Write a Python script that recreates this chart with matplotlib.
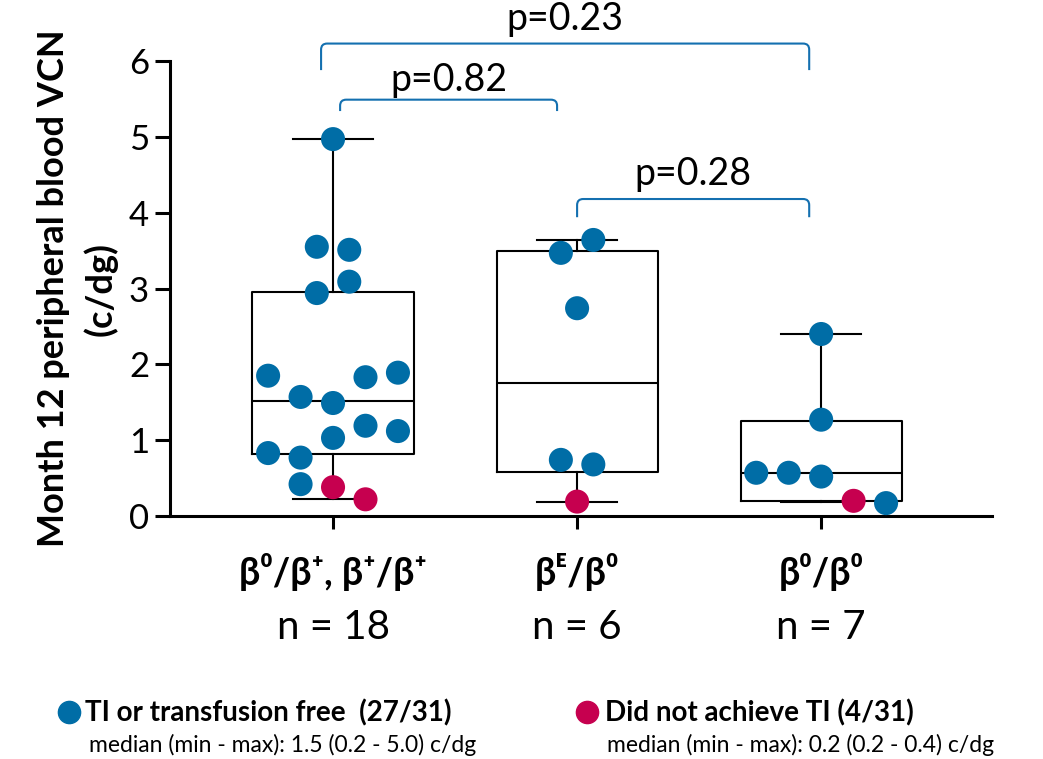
import matplotlib
matplotlib.use("Agg")
import matplotlib.pyplot as plt
from matplotlib.path import Path
from matplotlib.patches import PathPatch
from matplotlib.lines import Line2D

plt.rcParams['font.family'] = ['Lato', 'Noto Sans', 'DejaVu Sans']

BLUE = "#006da6"
RED = "#c6004f"
BRACKET = "#1470b0"

# groups
group_names = ["β⁰/β⁺, β⁺/β⁺", "βᴱ/β⁰", "β⁰/β⁰"]
group_n = ["n = 18", "n = 6", "n = 7"]

# VCN values per group, slot = horizontal jitter slot, ti = 1 transfusion free / 0 not
g1_vals = [4.97, 3.55, 3.51, 3.09, 2.94, 1.85, 1.83, 1.89, 1.57, 1.49,
           1.19, 1.12, 1.03, 0.83, 0.77, 0.42, 0.38, 0.22]
g1_slot = [0, -0.5, 0.5, 0.5, -0.5, -2, 1, 2, -1, 0, 1, 2, 0, -2, -1, -1, 0, 1]
g1_ti = [1] * 16 + [0, 0]

g2_vals = [3.64, 3.47, 2.74, 0.74, 0.68, 0.19]
g2_slot = [0.5, -0.5, 0, -0.5, 0.5, 0]
g2_ti = [1, 1, 1, 1, 1, 0]

g3_vals = [2.40, 1.27, 0.57, 0.57, 0.52, 0.20, 0.17]
g3_slot = [0, 0, -2, -1, 0, 1, 2]
g3_ti = [1, 1, 1, 1, 1, 0, 1]

# box stats (q1, median, q3, whisker low, whisker high)
box_q1 = [0.82, 0.58, 0.20]
box_med = [1.52, 1.75, 0.57]
box_q3 = [2.95, 3.50, 1.25]
box_lo = [0.22, 0.19, 0.18]
box_hi = [4.97, 3.64, 2.40]

# comparisons
p_texts = ["p=0.23", "p=0.82", "p=0.28"]

fig = plt.figure(figsize=(10.43, 7.59), dpi=100)
ax = fig.add_axes([170 / 1043, 243 / 759, 822 / 1043, 455 / 759])

positions = [1, 2, 3]
stats = []
for i in range(3):
    stats.append(dict(q1=box_q1[i], med=box_med[i], q3=box_q3[i],
                      whislo=box_lo[i], whishi=box_hi[i], fliers=[]))
ax.bxp(stats, positions=positions, widths=0.66, capwidths=0.33,
       showfliers=False,
       boxprops=dict(color="black", linewidth=1.5),
       medianprops=dict(color="black", linewidth=1.5),
       whiskerprops=dict(color="black", linewidth=1.5),
       capprops=dict(color="black", linewidth=1.5))

slot_w = 0.133
for pos, vals, slots, ti in zip(positions, [g1_vals, g2_vals, g3_vals],
                                [g1_slot, g2_slot, g3_slot],
                                [g1_ti, g2_ti, g3_ti]):
    xs = [pos + s * slot_w for s in slots]
    cols = [BLUE if t else RED for t in ti]
    ax.scatter(xs, vals, s=300, c=cols, linewidths=0, zorder=3, clip_on=False)

# significance brackets (layout)
br_x1 = [0.951, 1.029, 2.0]
br_x2 = [2.951, 1.918, 2.951]
br_top = [6.23, 5.49, 4.18]
br_leg = [0.35, 0.15, 0.24]
br_txt = [0.18, 0.11, 0.19]
rx, ry = 0.025, 0.08
for x1, x2, yt, ll, to, txt in zip(br_x1, br_x2, br_top, br_leg, br_txt, p_texts):
    verts = [(x1, yt - ll), (x1, yt - ry), (x1, yt), (x1 + rx, yt),
             (x2 - rx, yt), (x2, yt), (x2, yt - ry), (x2, yt - ll)]
    codes = [Path.MOVETO, Path.LINETO, Path.CURVE3, Path.CURVE3,
             Path.LINETO, Path.CURVE3, Path.CURVE3, Path.LINETO]
    ax.add_patch(PathPatch(Path(verts, codes), fill=False, edgecolor=BRACKET,
                           linewidth=1.5, clip_on=False))
    ax.text((x1 + x2) / 2, yt + to, txt, ha="center", va="baseline",
            fontsize=27, clip_on=False)

ax.set_xlim(0.332, 3.70)
ax.set_ylim(0, 6)
ax.set_yticks(range(0, 7))
ax.set_xticks(positions)
ax.set_xticklabels([])
ax.tick_params(axis="y", labelsize=25, width=2.2, length=11, pad=4)
ax.tick_params(axis="x", width=2.2, length=9)
for side in ["top", "right"]:
    ax.spines[side].set_visible(False)
for side in ["left", "bottom"]:
    ax.spines[side].set_linewidth(2.2)

ax.set_ylabel("Month 12 peripheral blood VCN\n(c/dg)", fontsize=26,
              fontweight="bold", linespacing=1.45, labelpad=8)

xtr = ax.get_xaxis_transform()
for pos, name, n in zip(positions, group_names, group_n):
    ax.text(pos, -0.123, name, transform=xtr, ha="center", va="center",
            fontsize=27, fontweight="bold")
    ax.text(pos, -0.244, n, transform=xtr, ha="center", va="center",
            fontsize=29)

# legend at bottom
def fx(px):
    return px / 1043

def fy(py):
    return 1 - py / 759

fig.add_artist(Line2D([fx(69)], [fy(712)], marker="o", markersize=16,
                      color=BLUE, linestyle="none", transform=fig.transFigure))
fig.text(fx(85), fy(713), "TI or transfusion free  (27/31)", fontsize=20,
         fontweight="bold", va="center")
fig.text(fx(89), fy(745), "median (min - max): 1.5 (0.2 - 5.0) c/dg",
         fontsize=16.5, va="center")
fig.add_artist(Line2D([fx(587)], [fy(712)], marker="o", markersize=16,
                      color=RED, linestyle="none", transform=fig.transFigure))
fig.text(fx(605), fy(713), "Did not achieve TI (4/31)", fontsize=20,
         fontweight="bold", va="center")
fig.text(fx(607), fy(745), "median (min - max): 0.2 (0.2 - 0.4) c/dg",
         fontsize=16.5, va="center")

fig.savefig("out.png", dpi=100)
